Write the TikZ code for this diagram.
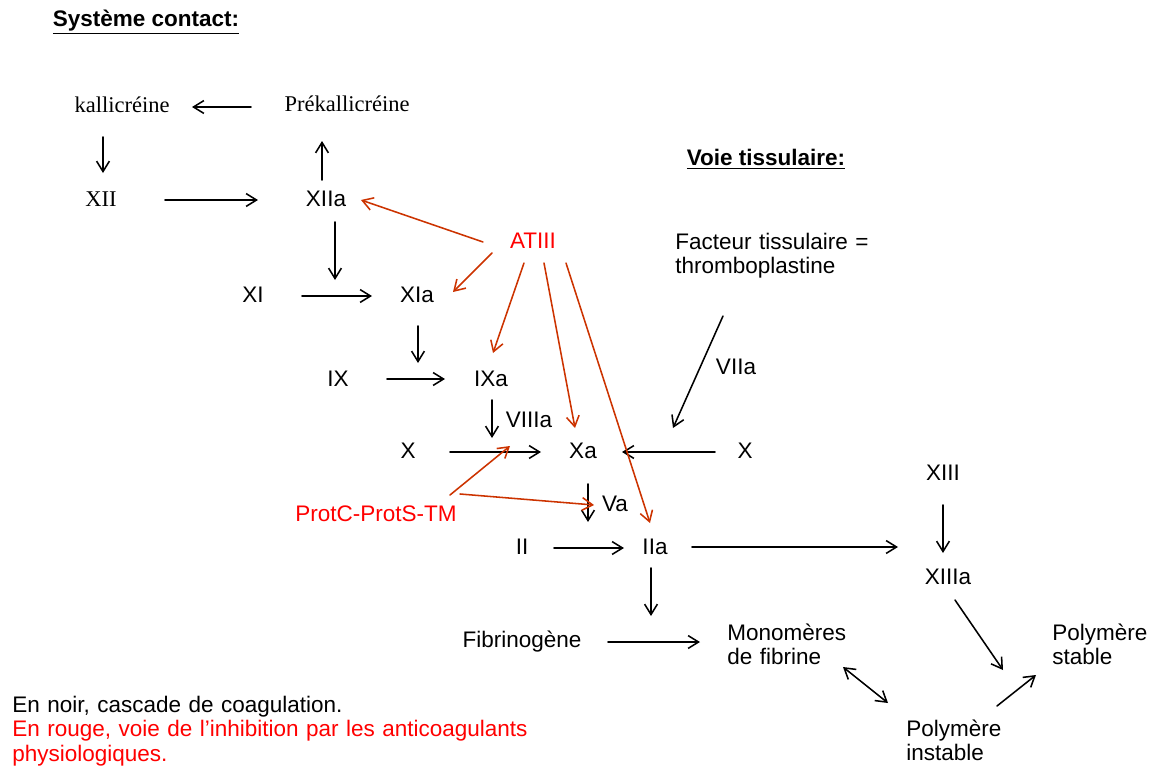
\documentclass[tikz,border=0pt]{standalone}
\usepackage{fontspec}
\setmainfont{Liberation Sans}
\newfontfamily\cgserif{Liberation Serif}
\usepackage{xcolor}
\usepackage{tikz}
\usetikzlibrary{arrows.meta}
\definecolor{cgInk}{HTML}{000000}
\definecolor{cgRed}{HTML}{FF0000}
\definecolor{cgInhib}{HTML}{CC3300}
\newcommand\cgsize{\fontsize{16}{17.7}\selectfont}
\tikzset{
  cg diagram/.style={x=0.025cm, y=-0.025cm, font=\cgsize, text=cgInk,
    line cap=round, line join=round},
  cg node/.style={inner sep=0pt, text height=0.94em, text depth=0pt},
  cg serif/.style={cg node, font=\cgsize\cgserif},
  cg title/.style={cg node, font=\cgsize\bfseries},
  cg red/.style={cg node, text=cgRed},
  cg text/.style={inner sep=0pt, anchor=base west, align=left, text width=#1},
  cg arrow/.style={-{Straight Barb[length=2.6mm,width=3.2mm]}, draw=cgInk, line width=1.1pt},
  cg both/.style={cg arrow, {Straight Barb[length=2.6mm,width=3.2mm]}-{Straight Barb[length=2.6mm,width=3.2mm]}},
  cg inhib/.style={cg arrow, draw=cgInhib}
}
\begin{document}
\begin{tikzpicture}[cg diagram]
\useasboundingbox (0,0) rectangle (1152,769);
\node[cg title] (contact) at (146,20) {\underline{Système contact:}};
\node[cg serif] (kall) at (122,106) {kallicréine};
\node[cg serif] (prek) at (347,105) {Prékallicréine};
\node[cg serif] (xii) at (101,200) {XII};
\node[cg node] (xiia) at (326,200) {XIIa};
\node[cg node] (xi) at (253,296) {XI};
\node[cg node] (xia) at (417,296) {XIa};
\node[cg node] (ix) at (338,380) {IX};
\node[cg node] (ixa) at (491,380) {IXa};
\node[cg node] (viiia) at (529,421) {VIIIa};
\node[cg node] (xl) at (408,452) {X};
\node[cg node] (xa) at (583,452) {Xa};
\node[cg node] (xr) at (745,452) {X};
\node[cg node] (va) at (615,505) {Va};
\node[cg node] (ii) at (522,548) {II};
\node[cg node] (iia) at (655,548) {IIa};
\node[cg node] (xiii) at (943,474) {XIII};
\node[cg node] (xiiia) at (948,578) {XIIIa};
\node[cg node] (fibg) at (522,641) {Fibrinogène};
\node[cg text=4cm] (mono) at (727,640) {Monomères\\de fibrine};
\node[cg text=3cm] (pstab) at (1052,640) {Polymère\\stable};
\node[cg text=3cm] (pinst) at (906,736) {Polymère\\instable};
\node[cg red] (atiii) at (533,242) {ATIII};
\node[cg red] (protc) at (376,515) {ProtC-ProtS-TM};
\node[cg title] (voie) at (766,159) {\underline{Voie tissulaire:}};
\node[cg text=6cm] (ft) at (675,249) {Facteur tissulaire =\\thromboplastine};
\node[cg node] (viia) at (736,368) {VIIa};
\node[cg text=16cm] (legend) at (12,712) {En noir, cascade de coagulation.\\
  \textcolor{cgRed}{En rouge, voie de l’inhibition par les anticoagulants}\\
  \textcolor{cgRed}{physiologiques.}};
\draw[cg arrow] ([shift={(-96,2)}]prek.center) -- ([shift={(70,1)}]kall.center);
\draw[cg arrow] ([shift={(-19,31)}]kall.center) -- ([shift={(2,-27)}]xii.center);
\draw[cg arrow] ([shift={(64,0)}]xii.center) -- ([shift={(-68,0)}]xiia.center);
\draw[cg arrow] ([shift={(-4,-20)}]xiia.center) -- ([shift={(-25,36)}]prek.center);
\draw[cg arrow] ([shift={(9,22)}]xiia.center) -- ([shift={(-82,-16)}]xia.center);
\draw[cg arrow] ([shift={(49,0)}]xi.center) -- ([shift={(-45,0)}]xia.center);
\draw[cg arrow] ([shift={(1,30)}]xia.center) -- ([shift={(-73,-17)}]ixa.center);
\draw[cg arrow] ([shift={(49,-1)}]ix.center) -- ([shift={(-46,-1)}]ixa.center);
\draw[cg arrow] ([shift={(1,20)}]ixa.center) -- ++(0,38);
\draw[cg arrow] ([shift={(42,0)}]xl.center) -- ([shift={(-42,0)}]xa.center);
\draw[cg arrow] ([shift={(-30,0)}]xr.center) -- ([shift={(39,0)}]xa.center);
\draw[cg arrow] ([shift={(48,67)}]ft.base west) -- ([shift={(90,-24)}]xa.center);
\draw[cg arrow] ([shift={(5,32)}]xa.center) -- ++(0,38);
\draw[cg arrow] ([shift={(32,0)}]ii.center) -- ([shift={(-31,0)}]iia.center);
\draw[cg arrow] ([shift={(37,-1)}]iia.center) -- ++(206,0);
\draw[cg arrow] ([shift={(0,31)}]xiii.center) -- ([shift={(-5,-25)}]xiiia.center);
\draw[cg arrow] ([shift={(-4,20)}]iia.center) -- ++(0,48);
\draw[cg arrow] ([shift={(86,1)}]fibg.center) -- ([shift={(-27,2)}]mono.base west);
\draw[cg both] ([shift={(116,27)}]mono.base west) -- ([shift={(-18,-33)}]pinst.base west);
\draw[cg arrow] ([shift={(7,22)}]xiiia.center) -- ([shift={(-49,30)}]pstab.base west);
\draw[cg arrow] ([shift={(91,-30)}]pinst.base west) -- ([shift={(-16,35)}]pstab.base west);
\draw[cg inhib] ([shift={(-50,0)}]atiii.center) -- ([shift={(35,0)}]xiia.center);
\draw[cg inhib] ([shift={(-41,11)}]atiii.center) -- ([shift={(36,-4)}]xia.center);
\draw[cg inhib] ([shift={(-9,21)}]atiii.center) -- ([shift={(2,-27)}]ixa.center);
\draw[cg inhib] ([shift={(11,21)}]atiii.center) -- ([shift={(-8,-24)}]xa.center);
\draw[cg inhib] ([shift={(33,21)}]atiii.center) -- ([shift={(-5,-25)}]iia.center);
\draw[cg inhib] ([shift={(74,-20)}]protc.center) -- ([shift={(-19,25)}]viiia.center);
\draw[cg inhib] ([shift={(84,-21)}]protc.center) -- ([shift={(-21,0)}]va.center);
\end{tikzpicture}
\end{document}
